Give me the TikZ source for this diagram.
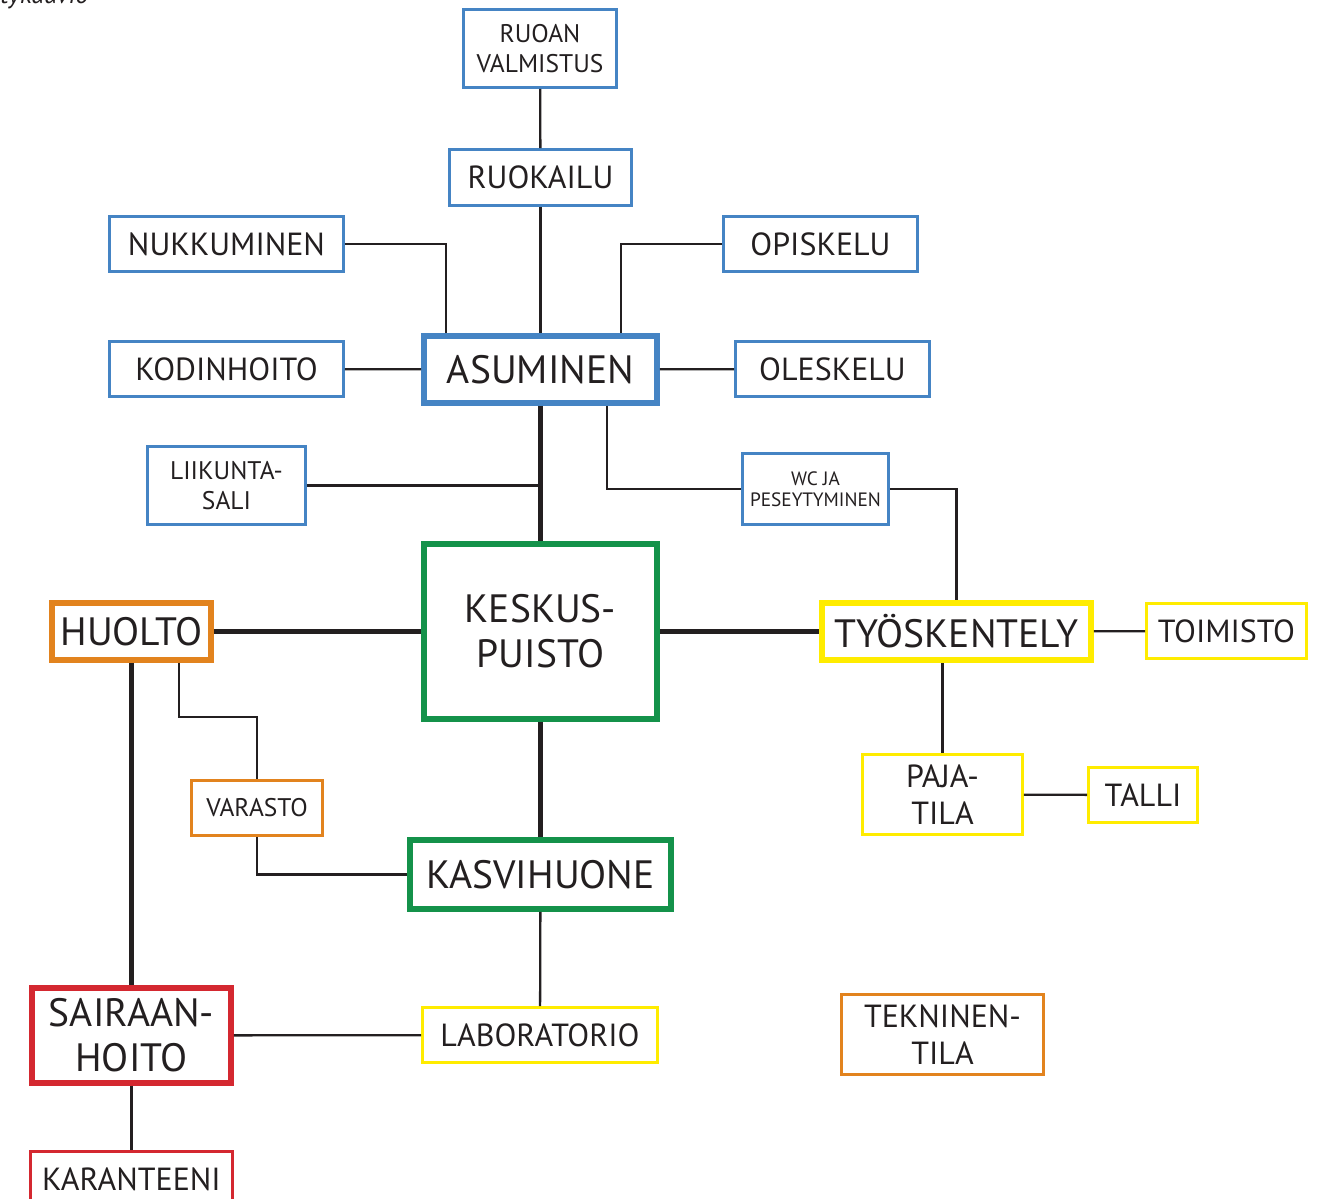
\documentclass[tikz,border=0pt]{standalone}
\usepackage{fontspec}
\setmainfont{PT Sans}
\usepackage{tikz}
\usetikzlibrary{positioning,calc}
\definecolor{asublue}{HTML}{4584C4}
\definecolor{parkgreen}{HTML}{14924A}
\definecolor{huoltoorange}{HTML}{E2831E}
\definecolor{workyellow}{HTML}{FFEC00}
\definecolor{carered}{HTML}{D42830}
\definecolor{textgray}{HTML}{231F20}
\newcommand{\sizeL}{\fontsize{22.5pt}{25.6pt}\selectfont}
\newcommand{\sizeM}{\fontsize{18.2pt}{21pt}\selectfont}
\newcommand{\sizeS}{\fontsize{14.5pt}{16.8pt}\selectfont}
\newcommand{\sizeXS}{\fontsize{11pt}{11.8pt}\selectfont}

\begin{document}
\begin{tikzpicture}[x=0.02cm,y=-0.02cm,
    box/.style={rectangle,draw,fill=white,line width=1.7pt,text=textgray,align=center,inner sep=0pt},
    mainbox/.style={box,line width=3.4pt},
    edge/.style={line width=1.3pt,color=textgray},
    mainedge/.style={line width=3.3pt,color=textgray}]

    \useasboundingbox (0,0) rectangle (1329,1199);

    %--------------------------------------------
    % Title (cut off at the top)
    \node[anchor=base east,text=textgray,font=\itshape\fontsize{15pt}{18pt}\selectfont] (otsikko) at (95,4) {etykaavio};

    %--------------------------------------------
    % Nodes
    \node[box,draw=asublue,minimum width=3.06cm,minimum height=1.56cm,font=\sizeS] (ruoanvalmistus) at (540,48.5) {RUOAN\\VALMISTUS};

    \node[box,draw=asublue,minimum width=3.64cm,minimum height=1.12cm,font=\sizeM] (ruokailu) at (540.5,177.5) {RUOKAILU};

    \node[box,draw=asublue,minimum width=4.68cm,minimum height=1.10cm,font=\sizeM] (nukkuminen) at (226.5,244) {NUKKUMINEN};

    \node[box,draw=asublue,minimum width=3.88cm,minimum height=1.10cm,font=\sizeM] (opiskelu) at (820.5,244) {OPISKELU};

    \node[box,draw=asublue,minimum width=4.68cm,minimum height=1.10cm,font=\sizeM] (kodinhoito) at (226.5,369) {KODINHOITO};

    \node[mainbox,draw=asublue,minimum width=4.66cm,minimum height=1.34cm,font=\sizeL] (asuminen) at (540.5,369.5) {ASUMINEN};

    \node[box,draw=asublue,minimum width=3.88cm,minimum height=1.10cm,font=\sizeM] (oleskelu) at (832.5,369) {OLESKELU};

    \node[box,draw=asublue,minimum width=3.16cm,minimum height=1.56cm,font=\sizeS] (liikuntasali) at (226.5,485.5) {LIIKUNTA-\\SALI};

    \node[box,draw=asublue,minimum width=2.92cm,minimum height=1.42cm,font=\sizeXS] (wc) at (815.5,489) {WC JA\\PESEYTYMINEN};

    \node[mainbox,draw=parkgreen,minimum width=4.66cm,minimum height=3.50cm,font=\sizeL] (keskuspuisto) at (540.5,631.5) {KESKUS-\\PUISTO};

    \node[mainbox,draw=huoltoorange,minimum width=3.18cm,minimum height=1.14cm,font=\sizeL] (huolto) at (131.5,631.5) {HUOLTO};

    \node[mainbox,draw=workyellow,minimum width=5.38cm,minimum height=1.14cm,font=\sizeL] (tyoskentely) at (956.5,631.5) {TYÖSKENTELY};

    \node[box,draw=workyellow,minimum width=3.20cm,minimum height=1.10cm,font=\sizeM] (toimisto) at (1226.5,631) {TOIMISTO};

    \node[box,draw=huoltoorange,minimum width=2.62cm,minimum height=1.10cm,font=\sizeS] (varasto) at (257,808) {VARASTO};

    \node[box,draw=workyellow,minimum width=3.20cm,minimum height=1.60cm,font=\sizeM] (pajatila) at (942.5,794.5) {PAJA-\\TILA};

    \node[box,draw=workyellow,minimum width=2.18cm,minimum height=1.10cm,font=\sizeM] (talli) at (1143,795) {TALLI};

    \node[mainbox,draw=parkgreen,minimum width=5.22cm,minimum height=1.38cm,font=\sizeL] (kasvihuone) at (540.5,874.5) {KASVIHUONE};

    \node[mainbox,draw=carered,minimum width=3.98cm,minimum height=1.90cm,font=\sizeL] (sairaanhoito) at (131.5,1035.5) {SAIRAAN-\\HOITO};

    \node[box,draw=workyellow,minimum width=4.70cm,minimum height=1.10cm,font=\sizeM] (laboratorio) at (540,1035) {LABORATORIO};

    \node[box,draw=huoltoorange,minimum width=4.04cm,minimum height=1.60cm,font=\sizeM] (tekninentila) at (942.5,1034.5) {TEKNINEN-\\TILA};

    \node[box,draw=carered,minimum width=4.04cm,minimum height=1.10cm,font=\sizeM] (karanteeni) at (131.5,1179) {KARANTEENI};

    %--------------------------------------------
    % Main connections
    \draw[mainedge] (asuminen) -- (keskuspuisto);
    \draw[mainedge] (huolto) -- (keskuspuisto);
    \draw[mainedge] (keskuspuisto) -- (tyoskentely);
    \draw[mainedge] (keskuspuisto) -- (kasvihuone);
    \draw[mainedge] (huolto) -- (sairaanhoito);

    %--------------------------------------------
    % Edges
    \draw[edge] (ruoanvalmistus) -- (ruokailu);
    \draw[edge] (ruokailu) -- (asuminen);
    \draw[edge] (nukkuminen.east) -| ([xshift=-1.89cm]asuminen.north);
    \draw[edge] (opiskelu.west) -| ([xshift=1.61cm]asuminen.north);
    \draw[edge] (kodinhoito) -- (asuminen);
    \draw[edge] (asuminen) -- (oleskelu);
    \draw[edge] (liikuntasali.east) -- (liikuntasali.east -| asuminen.south);
    \draw[edge] ([xshift=1.33cm]asuminen.south) |- (wc.west);
    \draw[edge] (wc.east) -| (tyoskentely.north);

    \draw[edge] (tyoskentely) -- (toimisto);
    \draw[edge] (pajatila.north) -- (pajatila.north |- tyoskentely.south);
    \draw[edge] (pajatila) -- (talli);

    \draw[edge] ([xshift=0.95cm]huolto.south) -- ++(0,-1.08cm) -| (varasto.north);
    \draw[edge] (varasto.south) |- (kasvihuone.west);
    \draw[edge] (kasvihuone) -- (laboratorio);
    \draw[edge] (sairaanhoito) -- (laboratorio);
    \draw[edge] (sairaanhoito) -- (karanteeni);
\end{tikzpicture}
\end{document}
